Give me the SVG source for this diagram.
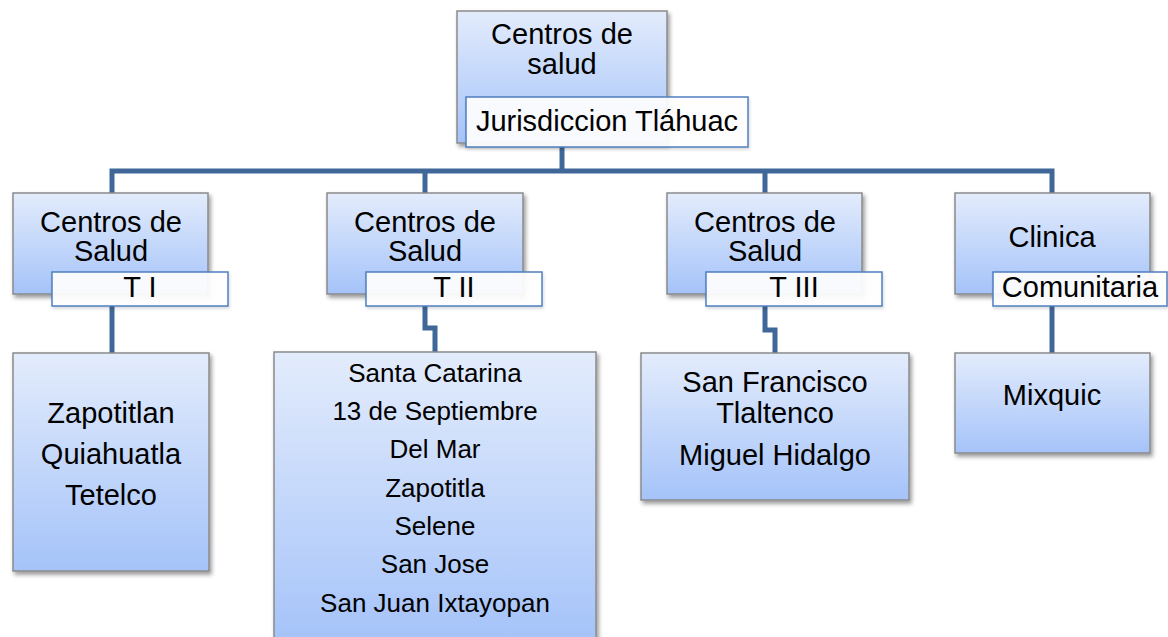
<svg xmlns="http://www.w3.org/2000/svg" width="1168" height="637" viewBox="0 0 1168 637">
<defs>
<linearGradient id="g" x1="0" y1="0" x2="0" y2="1">
<stop offset="0" stop-color="#e3ecfc"/>
<stop offset="1" stop-color="#a5c3f9"/>
</linearGradient>
<filter id="sh" x="-10%" y="-10%" width="130%" height="130%">
<feDropShadow dx="2" dy="3" stdDeviation="2" flood-color="#000" flood-opacity="0.4"/>
</filter>
<filter id="sh2" x="-10%" y="-10%" width="130%" height="140%">
<feDropShadow dx="1" dy="2" stdDeviation="1.5" flood-color="#000" flood-opacity="0.15"/>
</filter>
</defs>
<style>
.box{fill:url(#g);stroke:#8a8a8a;stroke-width:1.5;filter:url(#sh)}
.lab{fill:#ffffff;fill-opacity:0.92;stroke:#4f7fbf;stroke-width:1.5;filter:url(#sh2)}
.con{fill:none;stroke:#3f6797;stroke-width:5;stroke-linejoin:miter}
text{font-family:"Liberation Sans",Arial,sans-serif;fill:#000;text-anchor:middle}
.t29{font-size:29px}
.t26{font-size:26px}
</style>
<g id="connectors">
<path class="con" d="M562,147 V171"/>
<path class="con" d="M112,193 V171 H1052 V193"/>
<path class="con" d="M425,171 V193"/>
<path class="con" d="M765,171 V193"/>
<path class="con" d="M112,306 V353"/>
<path class="con" d="M425,306 V328 H435 V353"/>
<path class="con" d="M765,306 V330 H775 V353"/>
<path class="con" d="M1052,306 V353"/>
</g>
<g id="root">
<rect class="box" x="457" y="11" width="210" height="132"/>
<text class="t29" x="562" y="44">Centros de</text>
<text class="t29" x="562" y="74">salud</text>
<rect class="lab" x="466" y="97" width="282" height="50"/>
<text class="t29" x="607" y="131">Jurisdiccion Tláhuac</text>
</g>
<g id="n1">
<rect class="box" x="13" y="193" width="195" height="101"/>
<text class="t29" x="111" y="232">Centros de</text>
<text class="t29" x="111" y="261">Salud</text>
<rect class="lab" x="52" y="272" width="176" height="34"/>
<text class="t29" x="140" y="297">T I</text>
</g>
<g id="n2">
<rect class="box" x="327" y="193" width="196" height="101"/>
<text class="t29" x="425" y="232">Centros de</text>
<text class="t29" x="425" y="261">Salud</text>
<rect class="lab" x="366" y="272" width="176" height="34"/>
<text class="t29" x="454" y="297">T II</text>
</g>
<g id="n3">
<rect class="box" x="667" y="193" width="195" height="101"/>
<text class="t29" x="765" y="232">Centros de</text>
<text class="t29" x="765" y="261">Salud</text>
<rect class="lab" x="706" y="272" width="176" height="34"/>
<text class="t29" x="794" y="297">T III</text>
</g>
<g id="n4">
<rect class="box" x="955" y="193" width="195" height="101"/>
<text class="t29" x="1052" y="247">Clinica</text>
<rect class="lab" x="993" y="272" width="174" height="34"/>
<text class="t29" x="1080" y="297">Comunitaria</text>
</g>
<g id="c1">
<rect class="box" x="13" y="353" width="196" height="218"/>
<text class="t29" x="111" y="423">Zapotitlan</text>
<text class="t29" x="111" y="464">Quiahuatla</text>
<text class="t29" x="111" y="505">Tetelco</text>
</g>
<g id="c2">
<rect class="box" x="274" y="352" width="322" height="290"/>
<text class="t26" x="435" y="382">Santa Catarina</text>
<text class="t26" x="435" y="420">13 de Septiembre</text>
<text class="t26" x="435" y="458">Del Mar</text>
<text class="t26" x="435" y="497">Zapotitla</text>
<text class="t26" x="435" y="535">Selene</text>
<text class="t26" x="435" y="573">San Jose</text>
<text class="t26" x="435" y="612">San Juan Ixtayopan</text>
</g>
<g id="c3">
<rect class="box" x="641" y="353" width="268" height="147"/>
<text class="t29" x="775" y="392">San Francisco</text>
<text class="t29" x="775" y="423">Tlaltenco</text>
<text class="t29" x="775" y="465">Miguel Hidalgo</text>
</g>
<g id="c4">
<rect class="box" x="955" y="353" width="195" height="100"/>
<text class="t29" x="1052" y="405">Mixquic</text>
</g>
</svg>
